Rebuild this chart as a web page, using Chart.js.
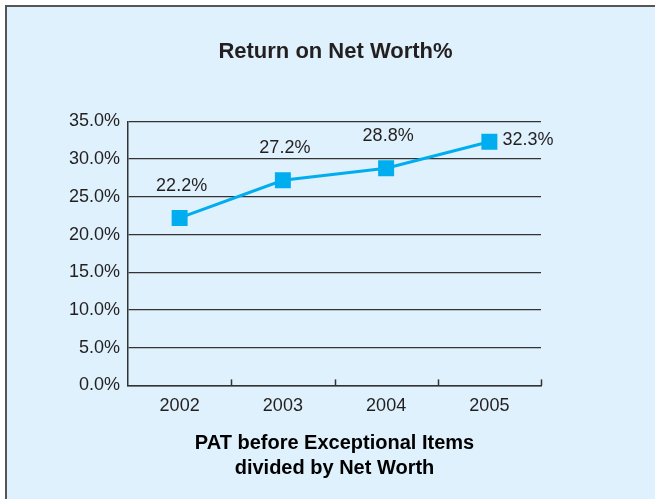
<!DOCTYPE html>
<html>
<head>
<meta charset="utf-8">
<script src="https://cdn.jsdelivr.net/npm/chart.js@4"></script>
<style>
    body { margin: 0; background: #ffffff; }
    #marco {
        position: absolute; left: 5px; top: 5px; width: 660px; height: 510px;
        background: #dff1fc; border-left: 2px solid #555; border-top: 2px solid #555;
    }
    #miGrafico { position: absolute; left: 0; top: 0; }
</style>
</head>
<body>
<div id="marco"></div>
<canvas id="miGrafico" width="655" height="499"></canvas>
<script>
// ================== DATOS ==================
const years = ['2002', '2003', '2004', '2005'];
const ronw = [22.2, 27.2, 28.8, 32.3];
const yTicks = [0, 5, 10, 15, 20, 25, 30, 35];

const ink = '#231f20';
const azul = '#00aeef';
const fuente = '"Liberation Sans", Arial, sans-serif';

// etiquetas de valor encima de los puntos (la ultima a la derecha)
const etiquetas = {
    id: 'etiquetas',
    afterDatasetsDraw(chart) {
        const c = chart.ctx;
        const meta = chart.getDatasetMeta(0);
        c.save();
        c.font = '18px ' + fuente;
        c.fillStyle = ink;
        c.textBaseline = 'middle';
        meta.data.forEach((p, i) => {
            const txt = ronw[i].toFixed(1) + '%';
            if (i === meta.data.length - 1) {
                c.textAlign = 'left';
                c.fillText(txt, p.x + 13, p.y - 2);
            } else {
                c.textAlign = 'center';
                c.fillText(txt, p.x + 2, p.y - 32);
            }
        });
        c.restore();
    }
};

// marcas del eje x hacia arriba, entre categorias
const marcasX = {
    id: 'marcasX',
    afterDraw(chart) {
        const x = chart.scales.x;
        const c = chart.ctx;
        const half = (x.getPixelForValue(1) - x.getPixelForValue(0)) / 2;
        c.save();
        c.strokeStyle = '#333';
        c.lineWidth = 1.5;
        years.forEach((y, i) => {
            const px = Math.round(x.getPixelForValue(i) + half) + 0.5;
            c.beginPath();
            c.moveTo(px, x.top);
            c.lineTo(px, x.top - 6);
            c.stroke();
        });
        c.restore();
    }
};

const ctx = document.getElementById('miGrafico');

const grafico = new Chart(ctx, {
    type: 'line',
    data: {
        labels: years,
        datasets: [{
            data: ronw,
            borderColor: azul,
            backgroundColor: azul,
            borderWidth: 3,
            tension: 0,
            pointStyle: 'rect',
            pointRadius: 11.3,
            pointBorderWidth: 0,
            pointBackgroundColor: azul
        }]
    },
    options: {
        responsive: false,
        animation: false,
        layout: { padding: { left: 16, right: 0, top: 0, bottom: 18 } },
        plugins: {
            legend: { display: false },
            tooltip: { enabled: false },
            title: {
                display: true,
                text: 'Return on Net Worth%',
                color: ink,
                font: { family: fuente, size: 22, weight: 'bold' },
                padding: { top: 39, bottom: 56 }
            }
        },
        scales: {
            x: {
                offset: true,
                grid: { display: false, drawTicks: false },
                border: { display: true, color: '#333', width: 1.5 },
                ticks: {
                    color: ink,
                    font: { family: fuente, size: 18 },
                    padding: 10
                },
                title: {
                    display: true,
                    text: ['PAT before Exceptional Items', 'divided by Net Worth'],
                    color: '#000',
                    font: { family: fuente, size: 20, weight: 'bold', lineHeight: 1.25 },
                    padding: { top: 4, bottom: 0 }
                }
            },
            y: {
                min: 0,
                max: 35,
                afterBuildTicks: s => { s.ticks = yTicks.map(v => ({ value: v })); },
                afterFit: s => { s.width = 112; },
                grid: { color: '#333', lineWidth: 1.3, drawTicks: false },
                border: { display: true, color: '#333', width: 1.5 },
                ticks: {
                    color: ink,
                    font: { family: fuente, size: 18 },
                    padding: 8,
                    callback: v => v.toFixed(1) + '%'
                }
            },
            // eje derecho vacio para reservar el margen
            y2: {
                position: 'right',
                min: 0,
                max: 35,
                afterFit: s => { s.width = 114; },
                grid: { display: false, drawTicks: false },
                border: { display: false },
                ticks: { display: false }
            }
        }
    },
    plugins: [etiquetas, marcasX]
});
</script>
</body>
</html>
